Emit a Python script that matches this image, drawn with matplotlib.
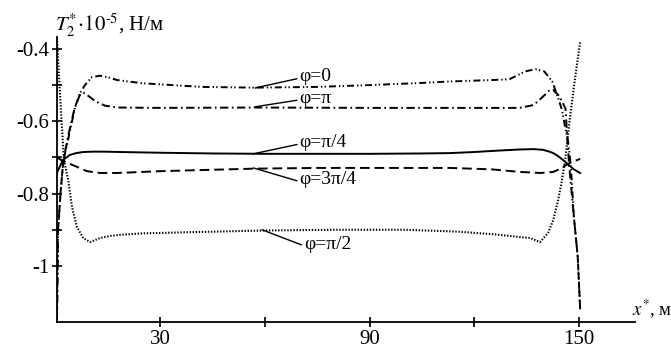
import numpy as np
import matplotlib
matplotlib.use("Agg")
import matplotlib.pyplot as plt
from matplotlib.ticker import MultipleLocator, FixedLocator

plt.rcParams['font.family'] = ['Liberation Serif', 'DejaVu Serif']
plt.rcParams['mathtext.fontset'] = 'stix'
plt.rcParams['axes.unicode_minus'] = False
plt.rcParams['lines.scale_dashes'] = False

# curve data (x*, m ; T2*1e-5, N/m)
x_phi0 = [0.5, 0.8, 1.5, 2.3, 3.7, 5.7, 7.2, 8.5, 10.5, 12.8, 15, 17.7, 25, 42, 57, 75, 90, 105,
          113, 125, 130, 132.5, 134.6, 137.5, 140, 142.3, 143.7, 145.1, 146, 146.9, 147.6, 148.5,
          149.6, 150.3]
y_phi0 = [-1.15, -0.9, -0.8, -0.71, -0.65, -0.56, -0.52, -0.5, -0.478, -0.474, -0.478, -0.486,
          -0.495, -0.505, -0.507, -0.505, -0.5, -0.494, -0.49, -0.486, -0.484, -0.472, -0.462,
          -0.456, -0.462, -0.49, -0.527, -0.569, -0.616, -0.66, -0.72, -0.864, -0.975, -1.12]

x_phipi = [0.5, 0.8, 1.5, 2.3, 3.7, 5.5, 7.0, 7.9, 9.5, 11.5, 14.3, 18, 30, 57, 90, 120, 133,
           137, 139.5, 141.5, 142.5, 144.3, 146.1, 147.1, 148.5, 149.6, 150.3]
y_phipi = [-1.15, -0.9, -0.8, -0.71, -0.64, -0.565, -0.528, -0.52, -0.53, -0.545, -0.557, -0.562,
           -0.563, -0.562, -0.563, -0.563, -0.563, -0.555, -0.533, -0.515, -0.513, -0.53, -0.565,
           -0.718, -0.864, -0.975, -1.12]

x_phi_half = [0.5, 1.4, 2.2, 2.5, 3.7, 4.8, 6.2, 8, 10, 12.8, 15.7, 18.6, 25, 41.5, 60, 80, 100,
              115, 125, 133, 136, 138.8, 141.1, 142.6, 144, 145.1, 146, 147.4, 148.9, 150.3]
y_phi_half = [-0.37, -0.533, -0.66, -0.707, -0.762, -0.837, -0.892, -0.923, -0.934, -0.923,
              -0.917, -0.914, -0.91, -0.906, -0.902, -0.9, -0.9, -0.905, -0.912, -0.92, -0.923,
              -0.934, -0.909, -0.873, -0.818, -0.762, -0.707, -0.588, -0.477, -0.38]

x_phi_q = [0.5, 2.2, 4.2, 6, 8, 10.8, 14, 18.6, 30, 45, 60, 75, 90, 105, 113, 120, 127, 133, 137,
           139.7, 141.5, 142.6, 143.6, 144.6, 146, 146.9, 148.5, 150.3]
y_phi_q = [-0.742, -0.707, -0.693, -0.688, -0.685, -0.684, -0.684, -0.685, -0.687, -0.689, -0.69,
           -0.69, -0.69, -0.689, -0.688, -0.685, -0.681, -0.678, -0.677, -0.679, -0.684, -0.688,
           -0.694, -0.701, -0.712, -0.72, -0.733, -0.743]

x_phi_3q = [0.5, 2.2, 4.2, 6.2, 9.1, 12.8, 17.7, 30, 41.5, 57, 75, 90, 105, 113, 125, 133, 139,
            142.6, 144, 145.4, 147.4, 150.3]
y_phi_3q = [-0.7, -0.71, -0.718, -0.726, -0.738, -0.743, -0.743, -0.738, -0.735, -0.731, -0.729,
            -0.729, -0.729, -0.729, -0.733, -0.74, -0.743, -0.74, -0.734, -0.726, -0.715, -0.704]

labels = ['φ=0', 'φ=π', 'φ=π/4', 'φ=3π/4', 'φ=π/2']
label_xy = [(57.2, -0.508), (57.2, -0.56), (56.7, -0.69), (56.7, -0.729), (59.2, -0.9)]
label_text = [(70.0, -0.476), (70.0, -0.536), (70.0, -0.658), (70.0, -0.762), (71.3, -0.94)]

fig = plt.figure(figsize=(6.71, 3.52), dpi=100)
ax = fig.add_axes([57 / 671, 30 / 352, 578 / 671, 285 / 352])

lw = 1.4
ax.plot(x_phi0, y_phi0, color='k', lw=lw, ls=(0, (5, 2.2, 1, 1.6, 1, 2.2)))
ax.plot(x_phipi, y_phipi, color='k', lw=lw, ls=(0, (6, 2.5, 1.2, 2.5)))
ax.plot(x_phi_half, y_phi_half, color='k', lw=1.5, ls=(0, (1, 1.2)))
ax.plot(x_phi_q, y_phi_q, color='k', lw=lw, ls='-')
ax.plot(x_phi_3q, y_phi_3q, color='k', lw=lw, ls=(0, (7, 3.5)))

for lab, xy, xt in zip(labels, label_xy, label_text):
    ax.annotate(lab, xy=xy, xytext=xt, ha='left', va='center', fontsize=14,
                arrowprops=dict(arrowstyle='-', lw=1.0, color='k', shrinkA=0, shrinkB=0,
                                relpos=(0, 0.4)))

ax.set_xlim(0.5, 166)
ax.set_ylim(-1.155, -0.367)

for s in ['top', 'right']:
    ax.spines[s].set_visible(False)
for s in ['left', 'bottom']:
    ax.spines[s].set_linewidth(1.3)

ax.xaxis.set_major_locator(FixedLocator([30, 90, 150]))
ax.xaxis.set_minor_locator(FixedLocator([60, 120]))
ax.yaxis.set_major_locator(FixedLocator([-0.4, -0.6, -0.8, -1.0]))
ax.yaxis.set_minor_locator(FixedLocator([-0.5, -0.7, -0.9]))
ax.set_yticklabels(['-0.4', '-0.6', '-0.8', '-1'])
ax.set_xticklabels(['30', '90', '150'])
ax.tick_params(which='both', direction='inout', length=7, width=1.2, labelsize=15, pad=2)

fig.text(55 / 671, 1 - 32 / 352, r'$T_2^{*}\!\cdot\!10^{\text{-}5}$, Н/м', fontsize=15, va='baseline')
fig.text(632 / 671, 1 - 316 / 352, r'$x^{*}$, м', fontsize=13.5, va='baseline')

fig.savefig('out.png', dpi=100)
